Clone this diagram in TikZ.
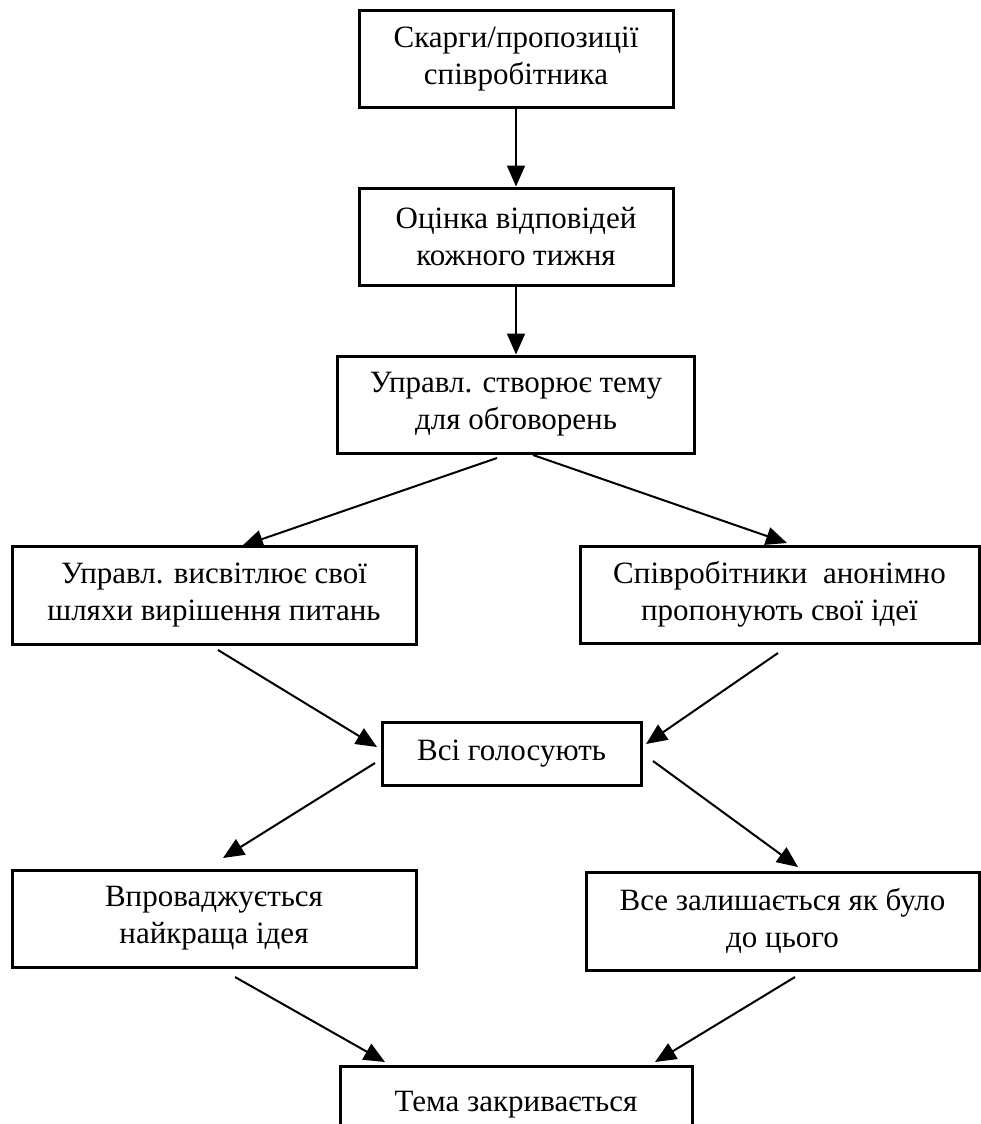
\documentclass[tikz,border=0pt]{standalone}
\usepackage{fontspec}
\setmainfont{Liberation Serif}
\usetikzlibrary{arrows.meta}
\begin{document}
\begin{tikzpicture}[x=1pt,y=-1pt,
  box/.style={draw, line width=3pt, align=center, font=\fontsize{31}{37}\selectfont, inner sep=0pt},
  arr/.style={line width=2pt, -{Triangle[length=21pt,width=18pt]}}]
\useasboundingbox (0,0) rectangle (981,1124);
\clip (0,0) rectangle (981,1124);
\node[box, minimum width=314pt, minimum height=96pt] (b1) at (516,59) {Скарги/пропозиції\\співробітника};
\node[box, minimum width=314pt, minimum height=97pt] (b2) at (516,236.5) {Оцінка відповідей\\кожного тижня};
\node[box, minimum width=357pt, minimum height=97pt] (b3) at (516,404.5) {Управл. створює тему\\для обговорень};
\node[box, minimum width=404pt, minimum height=98pt] (b4) at (214,595) {Управл. висвітлює свої\\шляхи вирішення питань};
\node[box, minimum width=399pt, minimum height=97pt] (b5) at (779.5,594.5) {Співробітники\ \ анонімно\\пропонують свої ідеї};
\node[box, minimum width=259pt, minimum height=63pt] (b6) at (511.5,753.5) {Всі голосують};
\node[box, minimum width=404pt, minimum height=97pt] (b7) at (214,918.5) {Впроваджується\\найкраща ідея};
\node[box, minimum width=393pt, minimum height=98pt] (b8) at (782.5,921) {Все залишається як було\\до цього};
\node[box, minimum width=352pt, minimum height=78pt] (b9) at (516,1105) {Тема закривається};
% connector ends
\coordinate (s34) at (497,458); \coordinate (e34) at (242,546);
\coordinate (s35) at (533,455); \coordinate (e35) at (787,543);
\coordinate (s46) at (218,650); \coordinate (e46) at (377,747);
\coordinate (s56) at (778,653); \coordinate (e56) at (646,744);
\coordinate (s67) at (375,763); \coordinate (e67) at (223,858);
\coordinate (s68) at (653,761); \coordinate (e68) at (798,867);
\coordinate (s79) at (235,977); \coordinate (e79) at (385,1062);
\coordinate (s89) at (795,977); \coordinate (e89) at (655,1062);
\draw[arr] (b1.south) -- (b2.north);
\draw[arr] (b2.south) -- (b3.north);
\draw[arr] (s34) -- (e34);
\draw[arr] (s35) -- (e35);
\draw[arr] (s46) -- (e46);
\draw[arr] (s56) -- (e56);
\draw[arr] (s67) -- (e67);
\draw[arr] (s68) -- (e68);
\draw[arr] (s79) -- (e79);
\draw[arr] (s89) -- (e89);
\end{tikzpicture}
\end{document}
